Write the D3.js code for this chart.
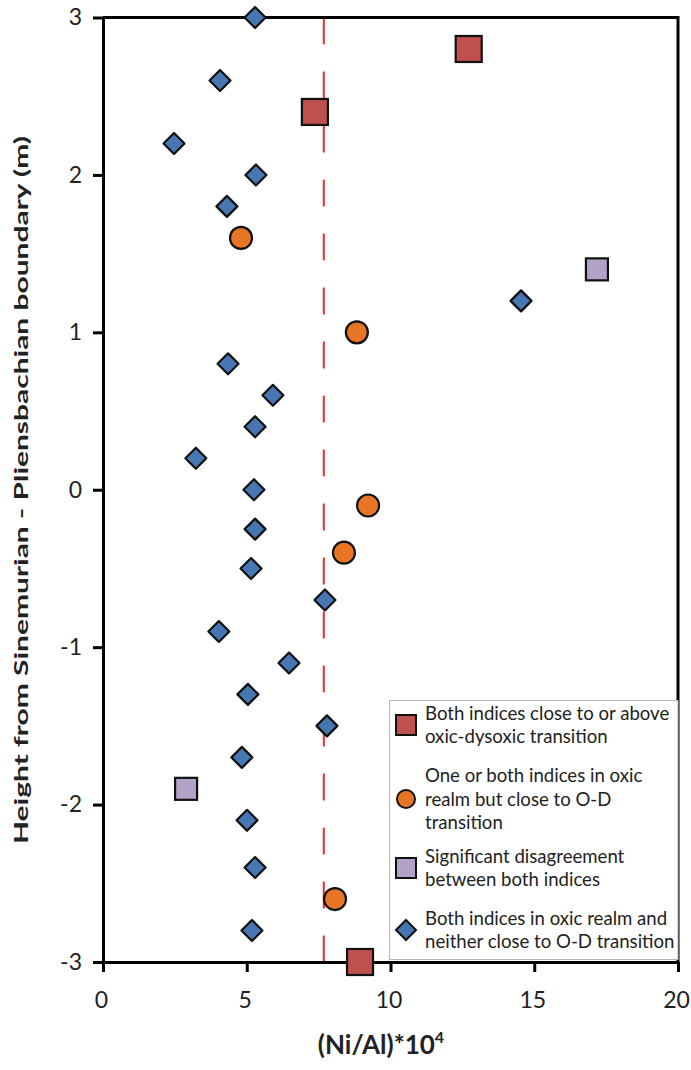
<!DOCTYPE html>
<html><head><meta charset="utf-8">
<script src="https://cdn.jsdelivr.net/npm/d3@7"></script>
<style>body{margin:0;background:#fff}svg{display:block}</style>
</head><body>
<div id="chart"></div>
<script>
// ---- data ----
const xTicks = [0, 5, 10, 15, 20];
const yTicks = [-3, -2, -1, 0, 1, 2, 3];
const threshold = 7.68; // oxic-dysoxic transition

// Both indices close to or above oxic-dysoxic transition (red squares)
const redX = [12.72, 7.37, 8.94];
const redY = [2.8, 2.4, -3.0];
// One or both indices in oxic realm but close to O-D transition (orange circles)
const orangeX = [4.80, 8.83, 9.22, 8.38, 8.07];
const orangeY = [1.6, 1.0, -0.1, -0.4, -2.6];
// Significant disagreement between both indices (purple squares)
const purpleX = [17.18, 2.89];
const purpleY = [1.4, -1.9];
// Both indices in oxic realm and neither close to O-D transition (blue diamonds)
const blueX = [5.29, 4.07, 2.47, 5.32, 4.31, 14.54, 4.35, 5.91, 5.29, 3.23, 5.25, 5.29, 5.15, 7.72, 4.03, 6.47, 5.04, 7.79, 4.83, 5.01, 5.29, 5.18];
const blueY = [3.0, 2.6, 2.2, 2.0, 1.8, 1.2, 0.8, 0.6, 0.4, 0.2, 0.0, -0.25, -0.5, -0.7, -0.9, -1.1, -1.3, -1.5, -1.7, -2.1, -2.4, -2.8];

const legendItems = [
  {type: "redsq", lines: ["Both indices close to or above", "oxic-dysoxic transition"]},
  {type: "circle", lines: ["One or both indices in oxic", "realm but close to O-D", "transition"]},
  {type: "purplesq", lines: ["Significant disagreement", "between both indices"]},
  {type: "diamond", lines: ["Both indices in oxic realm and", "neither close to O-D transition"]}
];

(function () {
// ---- layout ----
const W = 691, H = 1070;
const pLeft = 103, pRight = 678, pTop = 17.5, pBottom = 962;
const FONT = "Lato, 'Open Sans', sans-serif";
const colors = {red: "#C0504D", orange: "#E87526", purple: "#B3A2C8", blue: "#4677B3"};

const svg = d3.select("#chart").append("svg").attr("width", W).attr("height", H);
const x = d3.scaleLinear().domain([0, 20]).range([pLeft, pRight]);
const y = d3.scaleLinear().domain([-3, 3]).range([pBottom, pTop]);

// threshold dashed line
svg.append("line")
  .attr("x1", x(threshold)).attr("x2", x(threshold))
  .attr("y1", y(3)).attr("y2", y(-3))
  .attr("stroke", "#EE2A32").attr("stroke-width", 2)
  .attr("stroke-dasharray", "27,27");

// axes
const xAxis = svg.append("g").attr("transform", `translate(0,${pBottom})`)
  .call(d3.axisBottom(x).tickValues(xTicks).tickSize(10).tickPadding(20).tickSizeOuter(0));
const yAxis = svg.append("g").attr("transform", `translate(${pLeft},0)`)
  .call(d3.axisLeft(y).tickValues(yTicks).tickSize(10).tickPadding(11).tickSizeOuter(0));
[xAxis, yAxis].forEach(g => {
  g.select(".domain").attr("stroke", "#000").attr("stroke-width", 3);
  g.selectAll(".tick line").attr("stroke", "#000").attr("stroke-width", 3);
  g.selectAll(".tick text").attr("font-family", FONT).attr("font-size", 23).attr("fill", "#222");
});
yAxis.selectAll(".tick text").text(d => d < 0 ? "-" + Math.abs(d) : d);
xAxis.selectAll(".tick text").attr("dx", -2);
// top frame
svg.append("line").attr("x1", pLeft).attr("x2", pRight).attr("y1", y(3)).attr("y2", y(3))
  .attr("stroke", "#000").attr("stroke-width", 3);
// right frame
svg.append("line").attr("x1", x(20)).attr("x2", x(20)).attr("y1", y(3) - 1.5).attr("y2", y(-3))
  .attr("stroke", "#000").attr("stroke-width", 3);

// axis titles
svg.append("text").attr("x", 381).attr("y", 1054)
  .attr("text-anchor", "middle").attr("font-family", FONT).attr("font-weight", "bold")
  .attr("font-size", 26).attr("fill", "#222")
  .html('(Ni/Al)*10<tspan font-size="16" dy="-11">4</tspan>');
svg.append("text").attr("transform", `translate(27.5,490) rotate(-90)`)
  .attr("text-anchor", "middle").attr("font-family", FONT).attr("font-weight", "bold")
  .attr("font-size", 19).attr("fill", "#222")
  .attr("textLength", 708).attr("lengthAdjust", "spacingAndGlyphs")
  .text("Height from Sinemurian - Pliensbachian boundary (m)");

// markers
function diamondPath(cx, cy, r) {
  return `M${cx},${cy - r}L${cx + r},${cy}L${cx},${cy + r}L${cx - r},${cy}Z`;
}
const stroke = "#111", sw = 2.2;
const pts = svg.append("g");
pts.selectAll(".bd").data(blueX.map((v, i) => [v, blueY[i]])).join("path")
  .attr("d", d => diamondPath(x(d[0]), y(d[1]), 10.5))
  .attr("fill", colors.blue).attr("stroke", stroke).attr("stroke-width", sw).attr("stroke-linejoin", "round");
pts.selectAll(".oc").data(orangeX.map((v, i) => [v, orangeY[i]])).join("circle")
  .attr("cx", d => x(d[0])).attr("cy", d => y(d[1])).attr("r", 11)
  .attr("fill", colors.orange).attr("stroke", stroke).attr("stroke-width", sw);
pts.selectAll(".ps").data(purpleX.map((v, i) => [v, purpleY[i]])).join("rect")
  .attr("x", d => x(d[0]) - 11).attr("y", d => y(d[1]) - 11).attr("width", 22).attr("height", 22)
  .attr("fill", colors.purple).attr("stroke", stroke).attr("stroke-width", sw);
pts.selectAll(".rs").data(redX.map((v, i) => [v, redY[i]])).join("rect")
  .attr("x", d => x(d[0]) - 13).attr("y", d => y(d[1]) - 13).attr("width", 26).attr("height", 26)
  .attr("fill", colors.red).attr("stroke", stroke).attr("stroke-width", sw);

// legend
const lg = svg.append("g");
lg.append("rect").attr("x", 389.5).attr("y", 700.5).attr("width", pRight - 389.5).attr("height", 259)
  .attr("fill", "#fff").attr("stroke", "#b5b5b5").attr("stroke-width", 1);
const lineH = 23.5;
const itemCenters = [725, 799, 868, 930];
legendItems.forEach((it, i) => {
  const cy = itemCenters[i];
  const mx = 406;
  if (it.type === "redsq") {
    lg.append("rect").attr("x", mx - 10).attr("y", cy - 10).attr("width", 20).attr("height", 20)
      .attr("fill", colors.red).attr("stroke", stroke).attr("stroke-width", 2);
  } else if (it.type === "circle") {
    lg.append("circle").attr("cx", mx).attr("cy", cy).attr("r", 9)
      .attr("fill", colors.orange).attr("stroke", stroke).attr("stroke-width", 2);
  } else if (it.type === "purplesq") {
    lg.append("rect").attr("x", mx - 10).attr("y", cy - 10).attr("width", 20).attr("height", 20)
      .attr("fill", colors.purple).attr("stroke", stroke).attr("stroke-width", 2);
  } else {
    lg.append("path").attr("d", diamondPath(mx, cy, 10))
      .attr("fill", colors.blue).attr("stroke", stroke).attr("stroke-width", 2);
  }
  const n = it.lines.length;
  it.lines.forEach((t, j) => {
    lg.append("text").attr("x", 425).attr("y", cy + (j - (n - 1) / 2) * lineH)
      .attr("dy", "0.35em").attr("font-family", FONT).attr("font-size", 18.6).attr("fill", "#222")
      .text(t);
  });
});
})();
</script>
</body></html>
